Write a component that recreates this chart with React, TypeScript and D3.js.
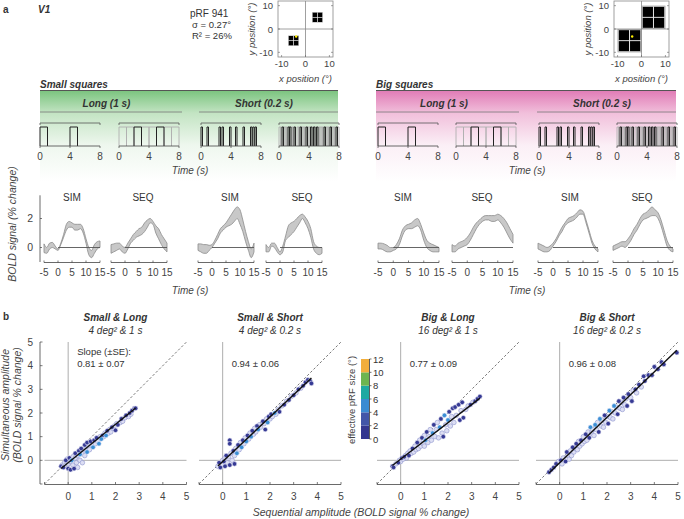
import React, { useEffect, useRef } from 'react';
import * as d3 from 'd3';

// ---------------- DATA ----------------
const boldTime = [-5, -4, -3, -2, -1, 0, 1, 2, 3, 4, 5, 6, 7, 8, 9, 10, 11, 12, 13, 14, 15];

// Small squares
const smallLongSimHi = [0.25, 0.0, 0.3, 0.35, 0.1, -0.1, 0.3, 0.9, 1.6, 1.8, 1.7, 1.6, 1.6, 1.6, 1.3, 0.6, 0.0, -0.2, 0.2, 0.4, 0.45];
const smallLongSimLo = [-0.35, -0.4, -0.1, 0.0, -0.1, -0.2, 0.2, 0.7, 1.2, 1.4, 1.4, 1.2, 1.2, 1.3, 1.0, 0.3, -0.5, -0.7, -0.4, -0.1, 0.0];
const smallLongSeqHi = [0.2, 0.25, 0.3, 0.3, 0.1, 0.0, 0.3, 0.6, 0.9, 1.1, 1.3, 1.4, 1.7, 1.9, 2.0, 1.8, 1.5, 1.3, 0.9, 0.6, 0.3];
const smallLongSeqLo = [-0.4, -0.3, -0.2, -0.1, -0.3, -0.4, -0.1, 0.3, 0.5, 0.7, 0.8, 0.9, 1.1, 1.4, 1.7, 1.6, 1.0, 0.6, 0.2, -0.1, -0.3];
const smallShortSimHi = [0.25, 0.25, 0.2, 0.2, 0.15, 0.2, 0.5, 0.9, 1.3, 1.5, 1.7, 2.0, 2.3, 2.6, 2.8, 2.6, 1.9, 1.1, 0.4, -0.1, 0.3];
const smallShortSimLo = [-0.2, -0.3, -0.4, -0.4, -0.2, 0.0, 0.3, 0.6, 1.0, 1.2, 1.4, 1.5, 1.6, 1.8, 2.0, 1.6, 1.1, 0.4, -0.2, -0.7, -0.3];
const smallShortSeqHi = [0.2, 0.0, 0.3, 0.3, 0.0, -0.3, 0.1, 0.8, 1.5, 1.7, 1.8, 2.0, 2.2, 2.3, 2.1, 1.8, 1.3, 0.4, 0.1, 0.0, 0.0];
const smallShortSeqLo = [-0.3, -0.3, 0.1, 0.0, -0.3, -0.5, -0.3, 0.5, 0.7, 0.9, 1.1, 1.4, 1.7, 2.0, 1.7, 1.3, 0.7, -0.1, -0.4, -0.5, -0.4];
// Big squares
const bigLongSimHi = [0.3, 0.3, 0.25, 0.15, 0.0, 0.0, 0.2, 0.6, 1.2, 1.5, 1.6, 1.7, 1.9, 2.0, 1.6, 1.0, 0.5, 0.3, 0.2, 0.1, 0.0];
const bigLongSimLo = [-0.1, -0.1, -0.2, -0.3, -0.3, -0.2, -0.1, 0.2, 0.8, 1.2, 1.3, 1.3, 1.4, 1.5, 1.2, 0.5, 0.0, -0.2, -0.3, -0.3, -0.3];
const bigLongSeqHi = [0.2, 0.1, 0.3, 0.4, 0.5, 0.7, 1.0, 1.4, 1.7, 1.9, 2.1, 2.2, 2.2, 2.2, 2.2, 2.3, 2.2, 2.0, 1.7, 1.3, 0.9];
const bigLongSeqLo = [-0.3, -0.3, -0.1, 0.0, 0.1, 0.2, 0.5, 0.9, 1.3, 1.6, 1.8, 1.9, 1.9, 1.8, 1.8, 1.9, 1.7, 1.4, 1.0, 0.6, 0.3];
const bigShortSimHi = [0.3, 0.2, 0.1, 0.0, 0.1, 0.3, 0.6, 1.0, 1.4, 1.7, 2.0, 2.1, 2.2, 2.4, 2.6, 2.5, 1.9, 1.2, 0.5, 0.1, -0.1];
const bigShortSimLo = [-0.1, -0.2, -0.3, -0.3, -0.2, 0.1, 0.4, 0.8, 1.1, 1.5, 1.7, 1.8, 1.9, 2.1, 2.3, 2.3, 1.7, 1.0, 0.3, -0.1, -0.3];
const bigShortSeqHi = [0.1, 0.2, 0.3, 0.4, 0.4, 0.6, 0.9, 1.3, 1.6, 2.0, 2.3, 2.4, 2.6, 2.8, 2.6, 2.4, 1.9, 1.2, 0.5, 0.1, -0.1];
const bigShortSeqLo = [-0.2, -0.1, 0.0, 0.1, 0.0, 0.2, 0.5, 0.9, 1.2, 1.6, 1.9, 2.0, 2.1, 2.2, 2.2, 2.0, 1.5, 0.8, 0.1, -0.2, -0.3];

const boldTitles = ['SIM', 'SEQ', 'SIM', 'SEQ'];
const boldTicksX = [-5, 0, 5, 10, 15];
const boldTicksY = [0, 2];

// Stimulus timing (s)
const simLongOn = [0, 4];
const seqLongGray = [0, 1, 3, 4, 6, 7];
const seqLongBlack = [2, 5];
const simShortOn = [0, 0.8, 2.4, 2.8, 3.8, 4.6, 5.6, 6.6, 6.9, 7.2];
const seqShortGray = [0, 0.2, 0.6, 0.8, 1.0, 1.6, 1.8, 2.4, 2.6, 3.0, 3.2, 3.4, 3.8, 4.0, 4.4, 4.8, 5.2, 5.4, 5.6, 5.8, 6.2, 6.4, 6.6, 7.0, 7.2, 7.4, 7.8];
const seqShortBlack = [0.4, 1.2, 1.4, 2.0, 2.8, 3.6, 4.2, 4.6, 5.0, 6.0, 6.8, 7.6];
const stimTicks = [0, 4, 8];

// Scatter points [sequential, simultaneous, colour bin (3 = pale)]
const smallLongPts = [[-0.3,-0.25,0],[-0.25,-0.2,3],[-0.2,-0.3,0],[-0.15,-0.1,3],[-0.1,0.0,0],[-0.1,-0.2,3],[-0.05,0.05,3],[0,-0.15,3],[0.0,-0.35,0],[0.05,0.1,0],[0.1,-0.05,3],[0.1,-0.4,0],[0.15,0.0,2],[0.2,-0.2,3],[0.2,0.15,3],[0.25,-0.35,0],[0.3,0.1,3],[0.3,0.3,0],[0.35,-0.1,3],[0.4,0.2,3],[0.4,-0.3,3],[0.45,0.4,0],[0.5,0.0,3],[0.5,0.25,2],[0.55,0.5,0],[0.6,0.3,3],[0.6,-0.1,3],[0.65,0.45,3],[0.7,0.2,3],[0.7,0.65,0],[0.75,0.5,3],[0.8,0.35,2],[0.8,0.75,0],[0.85,0.55,3],[0.9,0.45,3],[0.95,0.8,0],[1.0,0.65,3],[1.05,0.55,2],[1.1,0.85,0],[1.15,0.7,3],[1.2,0.95,0],[1.25,0.8,3],[1.3,0.7,2],[1.35,1.0,3],[1.4,0.9,2],[1.45,1.05,0],[1.5,1.0,3],[1.55,1.15,3],[1.6,1.05,2],[1.65,1.25,0],[1.7,1.15,3],[1.75,1.3,3],[1.8,1.2,3],[1.85,1.4,0],[1.9,1.35,3],[1.95,1.45,3],[2.0,1.27,0],[2.05,1.55,3],[2.1,1.5,0],[2.2,1.6,3],[2.25,1.75,0],[2.3,1.65,3],[2.4,1.8,3],[2.45,1.9,0],[2.55,1.85,3],[2.6,2.0,0],[2.65,1.95,3],[2.7,2.1,0],[2.8,2.2,0],[2.85,2.2,0]];
const smallShortPts = [[-0.2,-0.25,3],[-0.15,-0.1,0],[-0.1,-0.3,0],[-0.05,-0.15,3],[0,0.0,3],[0,-0.2,3],[0.05,-0.05,0],[0.1,0.1,3],[0.1,-0.25,0],[0.15,0.2,0],[0.2,-0.1,3],[0.25,0.15,3],[0.3,0.85,0],[0.3,0.7,0],[0.3,-0.2,0],[0.35,0.3,3],[0.4,0.0,3],[0.45,0.4,0],[0.5,0.2,3],[0.5,-0.15,0],[0.55,0.5,3],[0.6,0.3,2],[0.65,0.65,0],[0.7,0.45,3],[0.75,0.75,3],[0.8,0.55,2],[0.85,0.85,0],[0.9,0.7,3],[0.95,0.95,3],[1.0,0.8,2],[1.05,1.05,0],[1.1,0.9,3],[1.15,1.15,3],[1.2,1.0,2],[1.25,1.25,0],[1.3,1.1,3],[1.35,1.35,3],[1.4,1.2,3],[1.45,1.45,0],[1.5,1.3,2],[1.55,1.5,3],[1.6,1.4,3],[1.7,1.65,0],[1.75,1.55,3],[1.8,1.3,0],[1.85,1.75,3],[1.9,1.6,2],[1.95,1.85,0],[2.0,1.75,3],[2.05,1.95,0],[2.1,1.85,3],[2.2,2.0,2],[2.25,1.95,3],[2.35,2.15,3],[2.4,2.05,0],[2.5,2.3,3],[2.6,2.35,0],[2.7,2.5,3],[2.8,2.55,0],[2.9,2.7,3],[3.0,2.75,0],[3.1,2.85,3],[3.2,3.0,0],[3.3,3.05,3],[3.4,3.15,0],[3.5,3.3,0],[3.6,3.4,0],[3.7,3.35,0],[3.75,3.25,0]];
const bigLongPts = [[-0.35,-0.25,0],[-0.3,-0.3,0],[-0.2,-0.15,3],[-0.1,-0.1,0],[-0.05,0.0,3],[0,-0.05,3],[0.05,0.1,0],[0.1,0.05,3],[0.15,0.15,0],[0.2,0.2,3],[0.25,0.1,3],[0.3,0.3,3],[0.35,0.2,0],[0.4,0.4,3],[0.45,0.3,3],[0.5,0.5,0],[0.55,0.35,3],[0.6,0.6,3],[0.65,0.45,3],[0.7,0.75,0],[0.75,0.5,3],[0.8,0.85,3],[0.85,0.6,3],[0.9,0.95,0],[0.95,0.7,3],[1.0,1.05,3],[1.0,0.6,3],[1.05,0.85,2],[1.1,1.2,0],[1.15,0.75,3],[1.2,1.0,3],[1.25,1.3,3],[1.3,0.85,3],[1.35,1.15,2],[1.4,1.5,0],[1.45,1.0,3],[1.5,1.3,3],[1.55,1.6,3],[1.6,0.95,3],[1.65,1.4,2],[1.7,1.75,0],[1.75,1.15,3],[1.8,1.0,0],[1.85,1.9,2],[1.9,1.5,3],[1.95,1.25,3],[2.0,1.7,2],[2.05,2.05,0],[2.1,1.45,3],[2.15,1.85,3],[2.2,2.2,0],[2.25,1.6,3],[2.3,2.25,0],[2.35,1.9,3],[2.45,2.35,0],[2.5,1.7,0],[2.55,2.1,3],[2.6,2.45,0],[2.65,1.8,0],[2.75,2.15,3],[2.85,2.3,3],[2.95,2.35,0],[3.05,2.45,3],[3.15,2.5,0],[3.25,2.6,0],[3.35,2.7,0]];
const bigShortPts = [[-0.45,-0.5,0],[-0.35,-0.4,0],[-0.25,-0.3,0],[-0.15,-0.15,0],[-0.05,-0.05,3],[0.05,0.0,0],[0.1,-0.15,3],[0.15,0.1,3],[0.25,-0.05,0],[0.3,0.35,0],[0.35,0.2,3],[0.4,0.05,3],[0.45,0.4,3],[0.5,0.2,3],[0.55,0.55,0],[0.6,0.35,3],[0.65,0.5,3],[0.7,0.7,0],[0.75,0.45,3],[0.8,0.8,3],[0.85,0.6,3],[0.9,0.85,0],[0.95,0.7,3],[1.0,1.0,3],[1.05,0.8,3],[1.1,1.1,0],[1.15,0.85,3],[1.2,1.2,3],[1.25,0.95,0],[1.3,1.4,2],[1.35,1.15,3],[1.4,1.3,3],[1.45,1.05,3],[1.5,1.5,2],[1.55,1.3,3],[1.6,1.6,3],[1.65,1.2,0],[1.7,1.75,2],[1.75,1.45,3],[1.8,1.7,3],[1.85,1.4,3],[1.9,1.9,0],[1.95,1.6,3],[2.0,1.85,3],[2.05,1.55,0],[2.1,2.1,2],[2.15,1.8,3],[2.2,2.05,3],[2.25,1.75,3],[2.3,2.3,2],[2.35,2.0,3],[2.4,2.25,3],[2.45,1.95,0],[2.5,2.5,0],[2.55,2.2,3],[2.6,2.45,3],[2.65,2.15,3],[2.7,2.65,0],[2.75,2.35,3],[2.8,2.6,3],[2.85,2.3,0],[2.9,2.8,0],[3.0,2.65,3],[3.05,2.5,0],[3.1,2.95,3],[3.2,3.0,0],[3.25,2.85,3],[3.35,3.2,0],[3.45,3.1,3],[3.55,3.55,0],[3.6,3.35,0],[3.75,3.6,0],[3.9,3.6,0],[4.0,3.95,0],[4.15,3.85,0],[4.3,4.15,0],[4.4,4.05,0],[4.95,4.55,0]];

const scatterTitles = ['Small & Long', 'Small & Short', 'Big & Long', 'Big & Short'];
const scatterSubtitles = ['4 deg² & 1 s', '4 deg² & 0.2 s', '16 deg² & 1 s', '16 deg² & 0.2 s'];
const slopes = [0.81, 0.94, 0.77, 0.96];
const slopeSE = [0.07, 0.06, 0.09, 0.08];
const intercepts = [-0.1, -0.05, 0.05, -0.1];
const scatterTicks = [0, 1, 2, 3, 4, 5];

const cbarTicks = [0, 2, 4, 6, 8, 10, 12];
const cbarColors = ['#34378f', '#4256a8', '#3a8bd2', '#1fa9a2', '#6db550', '#f2ae3c'];
const dotFill = ['#363a94', '#4a5cb0', '#3b8fd6', '#dcdef3'];
const dotStroke = ['#e8e8f6', '#e8e8f6', '#e8e8f6', '#8c92cc'];

// pRF maps
const mapTicks = [-10, 0, 10];
const smallSquareCenters = [[5, 5], [-5, -5]];
const prfCenter = [-3.9, -3.2];

const FONT = '"Liberation Sans", Arial, Helvetica, sans-serif';

export default function App() {
  const ref = useRef<SVGSVGElement>(null);
  useEffect(() => {
    const svg = d3.select(ref.current);
    svg.selectAll('*').remove();
    const txt = (x: number, y: number, s: string, o: any = {}) => {
      const t = svg.append('text').attr('x', x).attr('y', y).text(s)
        .attr('font-family', FONT).attr('font-size', o.size || 10)
        .attr('fill', o.fill || '#333')
        .attr('text-anchor', o.anchor || 'start');
      if (o.bold) t.attr('font-weight', 'bold');
      if (o.italic) t.attr('font-style', 'italic');
      if (o.rotate) t.attr('transform', `rotate(-90,${x},${y})`);
      return t;
    };

    const defs = svg.append('defs');
    const mkGrad = (id: string, c0: string, c1: string, c2: string) => {
      const g = defs.append('linearGradient').attr('id', id).attr('x1', 0).attr('y1', 0).attr('x2', 0).attr('y2', 1);
      g.append('stop').attr('offset', '0%').attr('stop-color', c0);
      g.append('stop').attr('offset', '25%').attr('stop-color', c1);
      g.append('stop').attr('offset', '60%').attr('stop-color', c2);
      g.append('stop').attr('offset', '100%').attr('stop-color', '#ffffff');
    };
    mkGrad('gGreen', '#79c37d', '#c3e4c3', '#eef7ee');
    mkGrad('gPink', '#e07ab5', '#f1bfdb', '#fbeff6');

    // ---- labels a / V1 / pRF
    txt(3, 13, 'a', { bold: true, size: 10 });
    txt(38, 13, 'V1', { bold: true, italic: true, size: 10 });
    txt(190, 17, 'pRF 941', { size: 10 });
    txt(192, 28, 'σ = 0.27°', { size: 9.5 });
    txt(192, 39, 'R² = 26%', { size: 9.5 });

    // ---- pRF maps
    const drawMap = (left: number, big: boolean) => {
      const x = d3.scaleLinear().domain([-11.5, 11.5]).range([left, left + 55]);
      const y = d3.scaleLinear().domain([-12, 12]).range([57, 1]);
      const g = svg.append('g');
      g.append('rect').attr('x', x(-11.5)).attr('y', y(12)).attr('width', 55).attr('height', 56)
        .attr('fill', '#fff').attr('stroke', '#888').attr('stroke-width', 0.8);
      const drawGroup = (gx0: number, gy0: number, size: number, sq: number[][]) => {
        g.append('rect').attr('x', x(gx0)).attr('y', y(gy0 + size)).attr('width', x(gx0 + size) - x(gx0)).attr('height', y(gy0) - y(gy0 + size)).attr('fill', '#999');
        const pad = size * 0.03;
        g.append('rect').attr('x', x(gx0 + pad)).attr('y', y(gy0 + size - pad)).attr('width', x(gx0 + size - pad) - x(gx0 + pad)).attr('height', y(gy0 + pad) - y(gy0 + size - pad)).attr('fill', '#eee');
        sq.forEach(([a, b]) => sq.forEach(([c, d]) => {
          g.append('rect').attr('x', x(gx0 + a)).attr('y', y(gy0 + d)).attr('width', x(gx0 + b) - x(gx0 + a)).attr('height', y(gy0 + c) - y(gy0 + d)).attr('fill', '#000');
        }));
      };
      if (big) {
        [[0, 0], [-10, -10]].forEach(([gx, gy]) => drawGroup(gx, gy, 10, [[0.5, 4.8], [5.2, 9.5]]));
      } else {
        smallSquareCenters.forEach(([cx, cy]) => drawGroup(cx - 2.2, cy - 2.2, 4.4, [[0.2, 2.05], [2.35, 4.2]]));
      }
      g.append('line').attr('x1', x(0)).attr('x2', x(0)).attr('y1', y(12)).attr('y2', y(-12)).attr('stroke', '#888').attr('stroke-width', 0.8);
      g.append('line').attr('x1', x(-11.5)).attr('x2', x(11.5)).attr('y1', y(0)).attr('y2', y(0)).attr('stroke', '#888').attr('stroke-width', 0.8);
      g.append('circle').attr('cx', x(prfCenter[0])).attr('cy', y(prfCenter[1])).attr('r', 1.2).attr('fill', '#ffee00');
      mapTicks.forEach(t => {
        g.append('line').attr('x1', x(t)).attr('x2', x(t)).attr('y1', 57).attr('y2', 55).attr('stroke', '#666').attr('stroke-width', 0.6);
        g.append('line').attr('x1', left).attr('x2', left + 2).attr('y1', y(t)).attr('y2', y(t)).attr('stroke', '#666').attr('stroke-width', 0.6);
        g.append('line').attr('x1', left + 55).attr('x2', left + 53).attr('y1', y(t)).attr('y2', y(t)).attr('stroke', '#666').attr('stroke-width', 0.6);
        txt(x(t), 67, String(t), { anchor: 'middle', size: 9.5, fill: '#444' });
        txt(left - 5, y(t) + 3.5, String(t), { anchor: 'end', size: 9.5, fill: '#444' });
      });
      txt(x(0), 82, 'x position (°)', { anchor: 'middle', italic: true, size: 9.5, fill: '#444' });
      txt(left - 23, 29, 'y position (°)', { anchor: 'middle', italic: true, size: 9.5, fill: '#444', rotate: true });
    };
    drawMap(278, false);
    drawMap(614, true);

    // ---- section headers & banners
    const banner = (x0: number, x1: number, grad: string, title: string, stimX: number[]) => {
      txt(x0, 88, title, { bold: true, italic: true, size: 10 });
      svg.append('rect').attr('x', x0).attr('y', 90).attr('width', x1 - x0).attr('height', 92).attr('fill', `url(#${grad})`);
      svg.append('line').attr('x1', x0).attr('x2', x1).attr('y1', 90.5).attr('y2', 90.5).attr('stroke', '#555').attr('stroke-width', 1.2);
      const mid1 = (stimX[0] + stimX[1] + 60) / 2 - 3;
      const mid2 = (stimX[2] + stimX[3] + 60) / 2 - 6;
      txt(mid1, 107, 'Long (1 s)', { bold: true, italic: true, size: 10, anchor: 'middle' });
      txt(mid2, 107, 'Short (0.2 s)', { bold: true, italic: true, size: 10, anchor: 'middle' });
      svg.append('line').attr('x1', x0).attr('x2', stimX[1] + 63).attr('y1', 112).attr('y2', 112).attr('stroke', '#777').attr('stroke-width', 0.8);
      svg.append('line').attr('x1', stimX[2] - 2).attr('x2', x1).attr('y1', 112).attr('y2', 112).attr('stroke', '#777').attr('stroke-width', 0.8);

      const sets = [
        { gray: [] as number[], black: simLongOn, dur: 1 },
        { gray: seqLongGray, black: seqLongBlack, dur: 1 },
        { gray: [] as number[], black: simShortOn, dur: 0.2 },
        { gray: seqShortGray, black: seqShortBlack, dur: 0.2 },
      ];
      stimX.forEach((sx, i) => {
        const x = d3.scaleLinear().domain([0, 8]).range([sx, sx + 60]);
        const base = 146, top = 127;
        svg.append('path').attr('d', `M${x(0)},125V123H${x(8)}V125`).attr('fill', 'none').attr('stroke', '#555').attr('stroke-width', 0.8);
        const pulse = (arr: number[], dur: number) => arr.map(s => `M${x(s)},${base}V${top}H${x(s + dur)}V${base}`).join('');
        svg.append('path').attr('d', pulse(sets[i].gray, sets[i].dur)).attr('fill', 'none').attr('stroke', '#b0b0b0').attr('stroke-width', 0.9);
        svg.append('path').attr('d', pulse(sets[i].black, sets[i].dur)).attr('fill', 'none').attr('stroke', '#222').attr('stroke-width', 1);
        svg.append('line').attr('x1', x(0)).attr('x2', x(8)).attr('y1', base).attr('y2', base).attr('stroke', '#444').attr('stroke-width', 0.8);
        stimTicks.forEach(t => {
          svg.append('line').attr('x1', x(t)).attr('x2', x(t)).attr('y1', base).attr('y2', base + 2).attr('stroke', '#444').attr('stroke-width', 0.7);
          txt(x(t), 160, String(t), { anchor: 'middle', size: 10, fill: '#444' });
        });
      });
      txt((x0 + x1) / 2 + 1, 174, 'Time (s)', { anchor: 'middle', italic: true, size: 10, fill: '#444' });
    };
    banner(40, 338, 'gGreen', 'Small squares', [40, 119, 201, 279]);
    banner(376, 676, 'gPink', 'Big squares', [378, 456, 539, 617]);

    // ---- BOLD time courses
    const boldSets = [
      [smallLongSimLo, smallLongSimHi], [smallLongSeqLo, smallLongSeqHi], [smallShortSimLo, smallShortSimHi], [smallShortSeqLo, smallShortSeqHi],
      [bigLongSimLo, bigLongSimHi], [bigLongSeqLo, bigLongSeqHi], [bigShortSimLo, bigShortSimHi], [bigShortSeqLo, bigShortSeqHi],
    ];
    const boldX0 = [44, 111, 198, 266, 378, 452, 538, 613];
    const boldW = [56, 56, 56, 56, 61, 61, 60, 60];
    const titleX = [72, 143, 230, 302, 403, 482, 570, 642];
    const yB = d3.scaleLinear().domain([-1, 3.6]).range([262, 195.3]);
    boldSets.forEach(([lo, hi], i) => {
      const x = d3.scaleLinear().domain([-5, 15]).range([boldX0[i], boldX0[i] + boldW[i]]);
      const area = d3.area<number>().x((_, k) => x(boldTime[k])).y0((_, k) => yB(lo[k])).y1((_, k) => yB(hi[k])).curve(d3.curveMonotoneX);
      svg.append('path').attr('d', area(boldTime)!).attr('fill', '#c8c8c8').attr('stroke', '#8c8c8c').attr('stroke-width', 0.8);
      svg.append('line').attr('x1', x(0)).attr('x2', x(15)).attr('y1', yB(0)).attr('y2', yB(0)).attr('stroke', '#555').attr('stroke-width', 0.9);
      svg.append('line').attr('x1', x(-5)).attr('x2', x(15)).attr('y1', 262.5).attr('y2', 262.5).attr('stroke', '#444').attr('stroke-width', 0.8);
      boldTicksX.forEach(t => {
        svg.append('line').attr('x1', x(t)).attr('x2', x(t)).attr('y1', 262.5).attr('y2', 260.5).attr('stroke', '#444').attr('stroke-width', 0.7);
        txt(x(t), 276, String(t), { anchor: 'middle', size: 10, fill: '#444' });
      });
      txt(titleX[i], 201, boldTitles[i % 4], { anchor: 'middle', size: 10, fill: '#333' });
    });
    svg.append('line').attr('x1', 40).attr('x2', 40).attr('y1', yB(3.6)).attr('y2', yB(-1)).attr('stroke', '#444').attr('stroke-width', 0.8);
    boldTicksY.forEach(t => {
      svg.append('line').attr('x1', 40).attr('x2', 42).attr('y1', yB(t)).attr('y2', yB(t)).attr('stroke', '#444').attr('stroke-width', 0.7);
      txt(33, yB(t) + 3.5, String(t), { anchor: 'end', size: 10.5, fill: '#444' });
    });
    txt(16, 224, 'BOLD signal (% change)', { anchor: 'middle', italic: true, size: 10.5, fill: '#444', rotate: true });
    txt(190, 294, 'Time (s)', { anchor: 'middle', italic: true, size: 10, fill: '#444' });
    txt(527, 294, 'Time (s)', { anchor: 'middle', italic: true, size: 10, fill: '#444' });

    // ---- Scatter panels
    txt(3, 320, 'b', { bold: true, size: 10 });
    const scX0 = [44.5, 199, 377, 536];
    const ptsAll = [smallLongPts, smallShortPts, bigLongPts, bigShortPts];
    const yS = d3.scaleLinear().domain([-1, 5]).range([484, 342]);
    ptsAll.forEach((pts, i) => {
      const x = d3.scaleLinear().domain([-1, 5]).range([scX0[i], scX0[i] + 142]);
      const g = svg.append('g');
      txt(x(2), 321, scatterTitles[i], { anchor: 'middle', bold: true, italic: true, size: 10 });
      txt(x(2), 334, scatterSubtitles[i], { anchor: 'middle', italic: true, size: 10 });
      g.append('line').attr('x1', x(0)).attr('x2', x(0)).attr('y1', yS(5)).attr('y2', yS(-1)).attr('stroke', '#999').attr('stroke-width', 0.8);
      g.append('line').attr('x1', x(-1)).attr('x2', x(5)).attr('y1', yS(0)).attr('y2', yS(0)).attr('stroke', '#999').attr('stroke-width', 0.8);
      g.append('line').attr('x1', x(-1)).attr('x2', x(5)).attr('y1', yS(-1)).attr('y2', yS(5)).attr('stroke', '#555').attr('stroke-width', 0.8).attr('stroke-dasharray', '2.5,2');
      g.append('line').attr('x1', x(-1)).attr('x2', x(5)).attr('y1', 484.5).attr('y2', 484.5).attr('stroke', '#444').attr('stroke-width', 0.8);
      [-1, ...scatterTicks].forEach(t => {
        g.append('line').attr('x1', x(t)).attr('x2', x(t)).attr('y1', 484.5).attr('y2', 482).attr('stroke', '#444').attr('stroke-width', 0.7);
      });
      scatterTicks.forEach(t => txt(x(t), 500, String(t), { anchor: 'middle', size: 10, fill: '#444' }));
      const order = [3, 0, 1, 2];
      order.forEach(c => {
        pts.filter(p => p[2] === c).forEach(p => {
          g.append('circle').attr('cx', x(p[0])).attr('cy', yS(p[1])).attr('r', 2.3)
            .attr('fill', dotFill[c]).attr('stroke', dotStroke[c]).attr('stroke-width', 0.6);
        });
      });
      const xs = pts.map(p => p[0]);
      const xmin = d3.min(xs)!, xmax = d3.max(xs)!;
      g.append('line').attr('x1', x(xmin)).attr('x2', x(xmax))
        .attr('y1', yS(slopes[i] * xmin + intercepts[i])).attr('y2', yS(slopes[i] * xmax + intercepts[i]))
        .attr('stroke', '#111').attr('stroke-width', 1.4);
      if (i === 0) {
        txt(x(0) + 9, 355, 'Slope (±SE):', { size: 9.5, fill: '#333' });
      }
      txt(x(0) + 9, 367, `${slopes[i].toFixed(2)} ± ${slopeSE[i].toFixed(2)}`, { size: 9.5, fill: '#333' });
    });
    svg.append('line').attr('x1', 40).attr('x2', 40).attr('y1', yS(5)).attr('y2', yS(-1)).attr('stroke', '#444').attr('stroke-width', 0.8);
    [-1, ...scatterTicks].forEach(t => {
      svg.append('line').attr('x1', 40).attr('x2', 42.5).attr('y1', yS(t)).attr('y2', yS(t)).attr('stroke', '#444').attr('stroke-width', 0.7);
    });
    scatterTicks.forEach(t => txt(33, yS(t) + 3.5, String(t), { anchor: 'end', size: 10, fill: '#444' }));
    txt(9, 405, 'Simultaneous amplitude', { anchor: 'middle', italic: true, size: 10.5, fill: '#444', rotate: true });
    txt(21, 405, '(BOLD signal % change)', { anchor: 'middle', italic: true, size: 10.5, fill: '#444', rotate: true });
    txt(361, 516, 'Sequential amplitude (BOLD signal % change)', { anchor: 'middle', italic: true, size: 10.5, fill: '#444' });

    // colorbar
    const yc = d3.scaleLinear().domain([0, 12]).range([439, 359]);
    cbarColors.forEach((c, k) => {
      svg.append('rect').attr('x', 361).attr('y', yc(2 * k + 2)).attr('width', 8).attr('height', yc(2 * k) - yc(2 * k + 2)).attr('fill', c);
    });
    svg.append('line').attr('x1', 369.5).attr('x2', 369.5).attr('y1', 359).attr('y2', 439).attr('stroke', '#333').attr('stroke-width', 0.8);
    cbarTicks.forEach(t => {
      svg.append('line').attr('x1', 369.5).attr('x2', 371.5).attr('y1', yc(t)).attr('y2', yc(t)).attr('stroke', '#333').attr('stroke-width', 0.7);
      txt(373, yc(t) + 3.5, String(t), { size: 9.5, fill: '#333' });
    });
    txt(355, 400, 'effective pRF size (°)', { anchor: 'middle', size: 9.5, fill: '#444', rotate: true });
  }, []);
  return (
    <svg ref={ref} width={684} height={519} style={{ position: 'absolute', left: 0, top: 0, background: '#fff' }} />
  );
}
